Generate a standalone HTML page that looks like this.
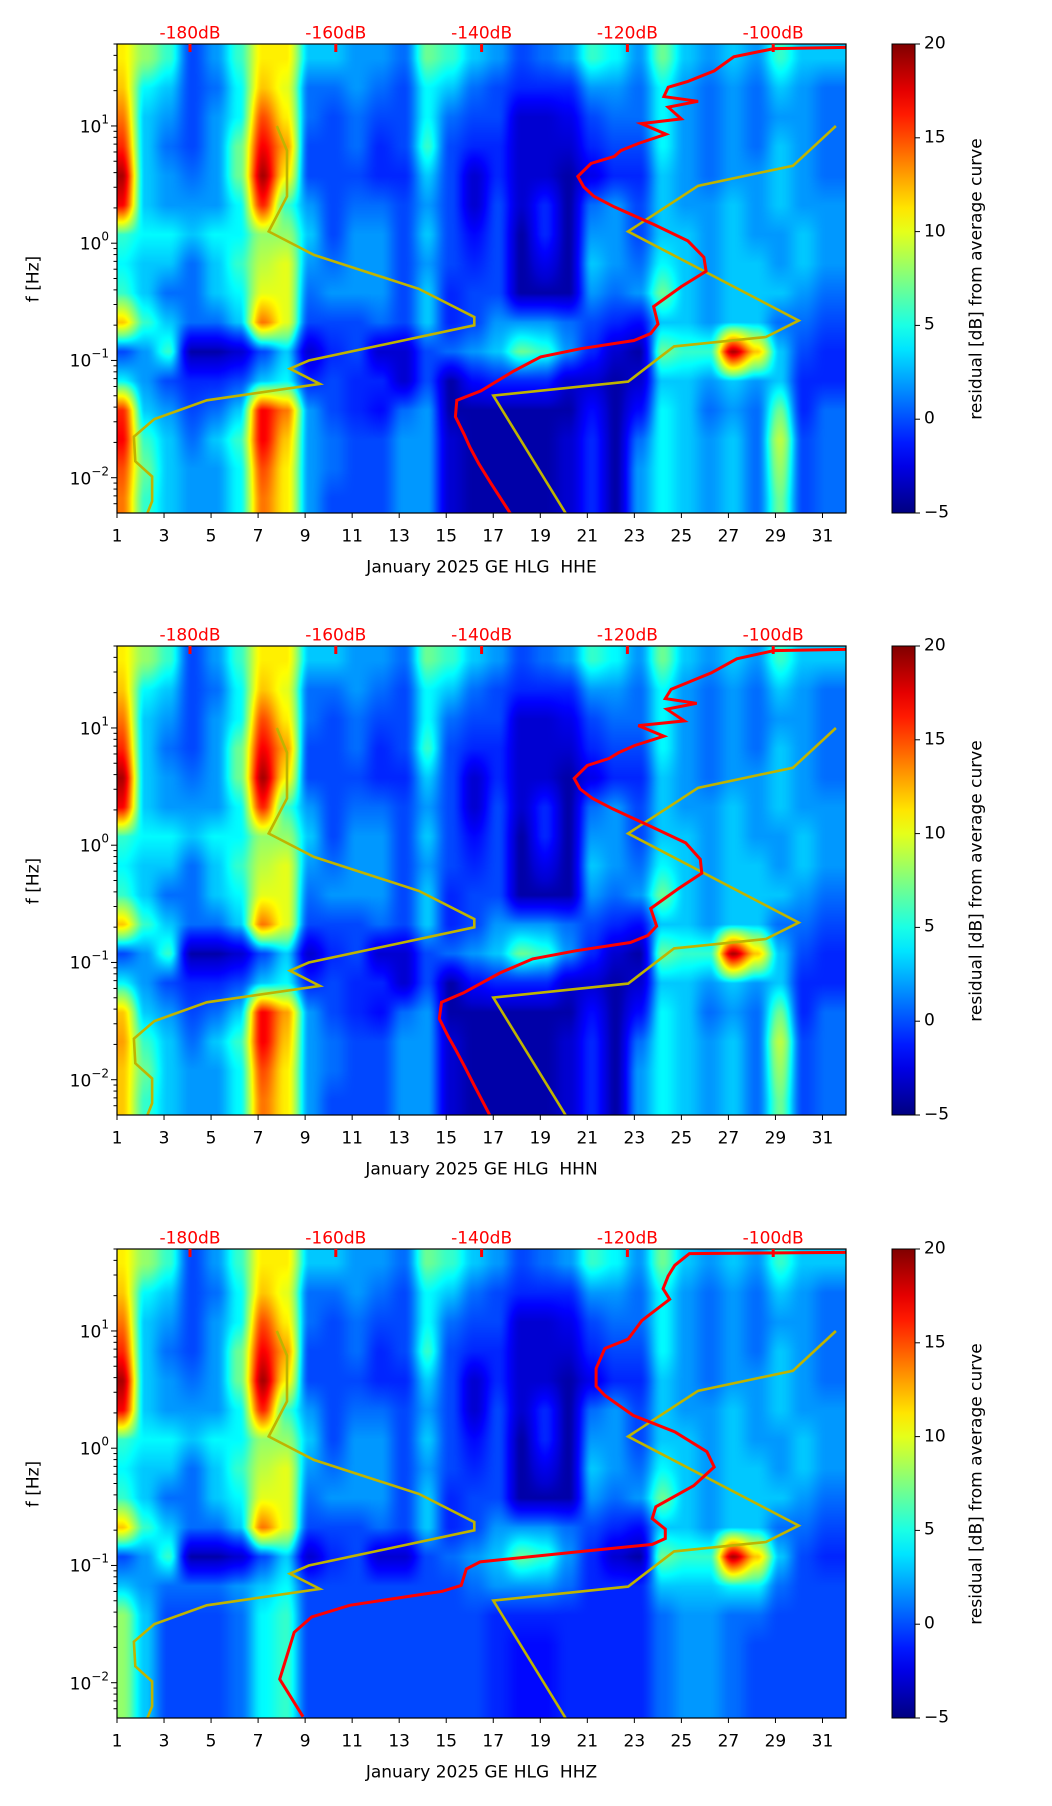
<!DOCTYPE html>
<html><head><meta charset="utf-8">
<style>
html,body{margin:0;padding:0;background:#fff;}
#root{position:relative;width:1052px;height:1806px;overflow:hidden;font-family:"DejaVu Sans","Liberation Sans",sans-serif;}
.t{position:absolute;white-space:nowrap;font-size:17px;color:#000;line-height:1;}
</style></head>
<body>
<div id="root"></div>
<script>
// ---------- data ----------
const channels = ["HHE","HHN","HHZ"];
const panelTops = [44,646,1249];
const dbLabels = [-180,-160,-140,-120,-100];
const dayTicks = [1,3,5,7,9,11,13,15,17,19,21,23,25,27,29,31];
const cbTicks = [20,15,10,5,0,-5];
const decades = [1,0,-1,-2];
// residual grid: 16 rows (0.25 decade bands, top -> bottom), 31 day columns
const hheRows = [
[11,8,6,1,3,6,11,11,4,4,3,3,2,7,6,4,3,1,2,3,6,5,3,7,4,3,4,3,6,4,4],
[12,5,4,1,2,5,12,10,2,2,3,2,1,5,4,2,1,0,0,0,3,3,2,5,3,2,3,2,4,3,2],
[14,4,3,1,3,5,15,11,2,1,2,1,1,5,2,1,1,-3,-3,-2,1,2,2,5,3,2,3,2,3,3,2],
[16,4,2,1,3,7,17,13,1,1,2,0,1,6,1,0,0,-3,-3,-3,0,1,1,5,3,2,3,2,4,3,2],
[19,4,3,2,3,7,19,11,1,1,1,0,0,4,1,-3,0,-3,-3,-4,-2,0,0,4,3,2,3,3,4,3,2],
[17,4,3,3,3,5,16,6,3,1,2,2,1,3,1,-3,1,-3,0,-4,2,3,1,4,3,3,4,3,4,3,3],
[6,5,5,4,5,5,8,8,4,1,3,3,1,4,1,-1,1,-4,0,-4,3,3,1,4,4,3,4,3,3,4,3],
[5,4,4,2,4,6,9,10,3,2,3,3,1,3,1,0,1,-4,-2,-4,4,3,2,5,4,3,4,4,3,4,3],
[6,4,2,2,4,5,10,10,2,3,3,3,1,4,0,1,1,-4,-4,-4,3,2,3,7,4,3,4,4,4,3,2],
[12,6,4,2,2,4,14,10,1,1,1,2,1,4,0,1,3,3,3,2,1,0,-1,4,4,3,4,4,2,2,1],
[1,3,6,-4,-4,-3,1,4,-3,0,1,-3,-3,1,2,3,4,7,6,3,0,-3,-4,7,6,6,19,12,4,1,0],
[5,3,1,0,0,1,4,5,0,1,0,0,-3,1,-4,-1,0,0,0,-3,-3,-4,-3,4,4,3,4,3,4,0,0],
[16,4,3,1,2,4,17,14,3,1,0,-1,2,3,-4,-4,-4,-4,-4,-4,-1,-4,-1,5,4,2,3,2,7,0,2],
[17,6,4,2,4,6,17,12,3,2,1,1,3,3,-3,-4,-4,-4,-4,-3,0,-4,2,5,4,3,4,2,9,1,2],
[15,7,4,3,3,5,15,11,3,2,1,1,3,3,-3,-4,-4,-4,-4,-3,0,-4,3,5,4,3,4,2,8,1,2],
[14,6,4,3,3,5,14,11,3,1,1,1,3,3,-3,-4,-4,-4,-4,-3,0,-4,3,5,4,3,4,2,7,1,2]
];
const hhnLowRows = [
[5,3,1,0,0,1,4,5,0,1,0,0,-3,1,-4,-1,0,0,0,-3,-3,-4,-3,4,4,3,4,3,4,0,0],
[12,4,3,1,2,4,17,13,3,1,0,-1,2,3,-4,-4,-4,-4,-4,-4,-1,-4,-1,5,4,2,3,2,7,0,2],
[13,6,4,2,4,6,17,12,3,2,1,1,3,3,-3,-4,-4,-4,-4,-3,0,-4,2,5,4,3,4,2,9,1,2],
[12,7,4,3,3,5,15,11,3,2,1,1,3,3,-3,-4,-4,-4,-4,-3,0,-4,3,5,4,3,4,2,8,1,2],
[12,6,4,3,3,5,14,11,3,1,1,1,3,3,-3,-4,-4,-4,-4,-3,0,-4,3,5,4,3,4,2,7,1,2]
];
const hhzLowRows = [
[4,3,2,2,2,3,4,5,1,1,1,1,1,1,1,2,3,3,3,2,0,0,0,4,4,4,5,5,2,1,1],
[8,4,1,1,1,2,5,6,1,1,1,1,1,1,1,1,0,0,0,0,0,0,0,2,3,3,2,2,1,1,1],
[8,4,1,1,1,2,5,6,1,1,1,1,1,1,1,1,0,-1,-1,0,0,0,0,2,3,3,2,1,1,1,1],
[8,4,1,1,1,2,5,6,1,1,1,1,1,1,1,1,0,-1,-1,0,0,0,0,2,3,3,2,1,1,1,1],
[8,4,1,1,1,2,5,6,1,1,1,1,1,1,1,1,0,-1,-1,0,0,0,0,2,3,3,2,1,1,1,1]
];
// noise models (dB, log10 f)
const nhnmDb = [-91.4,-97.3,-110.3,-119.9,-96.5,-101.0,-113.6,-119.9,-138.4,-128.4];
const nhnmLf = [1.0,0.66,0.49,0.10,-0.66,-0.80,-0.88,-1.18,-1.30,-2.31];
const nlnmDb = [-168.1,-166.7,-166.7,-169.2,-163.0,-148.6,-141.0,-141.0,-163.7,-166.3,-162.2,-177.7,-184.9,-187.7,-187.5,-185.2,-185.2,-185.9];
const nlnmLf = [1.0,0.79,0.40,0.10,-0.10,-0.39,-0.63,-0.70,-1.0,-1.07,-1.20,-1.34,-1.50,-1.65,-1.86,-1.99,-2.20,-2.31];
// average PSD curves per channel
const hheDb = [-90,-99.9,-105.4,-108.1,-111.7,-114.4,-115.0,-110.3,-114.4,-112.6,-118.1,-114.7,-118.5,-120.9,-121.8,-125.0,-126.8,-126.0,-124.6,-121.8,-116.4,-111.7,-109.5,-109.2,-112.6,-116.4,-115.8,-116.8,-119.1,-126.4,-131.9,-135.6,-140.1,-143.4,-143.6,-142.4,-141.6,-140.4,-138.7,-136.0];
const hheLf = [1.67,1.66,1.59,1.47,1.38,1.33,1.25,1.21,1.16,1.06,1.02,0.93,0.85,0.79,0.74,0.68,0.57,0.48,0.40,0.31,0.16,0.02,-0.12,-0.24,-0.37,-0.54,-0.69,-0.77,-0.83,-0.90,-0.97,-1.09,-1.26,-1.34,-1.48,-1.63,-1.74,-1.88,-2.05,-2.31];
const hhnDb = [-90,-99.9,-105.0,-108.5,-112.0,-114.0,-114.8,-110.5,-114.6,-112.2,-118.5,-115.0,-119.0,-121.2,-122.5,-125.5,-127.3,-126.5,-124.8,-122.0,-116.8,-112.0,-110.0,-109.8,-113.0,-116.8,-116.0,-117.2,-119.6,-127.0,-133.0,-137.5,-142.5,-145.5,-145.8,-144.6,-143.6,-142.4,-141.0,-138.8];
const hhnLf = [1.67,1.66,1.59,1.47,1.38,1.33,1.25,1.21,1.16,1.06,1.02,0.93,0.85,0.79,0.74,0.68,0.57,0.48,0.40,0.31,0.16,0.02,-0.12,-0.24,-0.37,-0.54,-0.69,-0.77,-0.83,-0.90,-0.97,-1.09,-1.26,-1.34,-1.48,-1.63,-1.74,-1.88,-2.05,-2.31];
const hhzDb = [-90,-111.5,-113.5,-114.4,-115.1,-114.2,-118.0,-119.9,-123.1,-124.3,-124.3,-123.1,-119.2,-113.5,-109.1,-108.1,-110.9,-116.1,-116.6,-114.8,-114.8,-116.6,-126.2,-140.2,-142.1,-142.8,-145.4,-158.1,-163.3,-165.7,-167.7,-164.5];
const hhzLf = [1.67,1.66,1.56,1.47,1.36,1.27,1.09,0.93,0.85,0.68,0.53,0.45,0.28,0.14,-0.03,-0.16,-0.32,-0.50,-0.60,-0.69,-0.77,-0.82,-0.88,-0.97,-1.03,-1.17,-1.22,-1.34,-1.44,-1.57,-1.97,-2.29];

// ---------- layout ----------
const AX_L=117, AX_R=846, AX_H=469, LF_TOP=1.699, LF_BOT=-2.301, DAY0=1, DAY1=32;
const CB_L=892, CB_W=23;
const root=document.getElementById('root');
const NS='http://www.w3.org/2000/svg';
function xDay(d){return AX_L+(d-DAY0)/(DAY1-DAY0)*(AX_R-AX_L);}
function xDb(db){return 190+(db+180)*7.29;}
function yLf(top,lf){return top+(LF_TOP-lf)/(LF_TOP-LF_BOT)*AX_H;}
function jet(t){t=Math.max(0,Math.min(1,t));const c=v=>Math.round(255*Math.max(0,Math.min(1,v)));
 return [c(1.5-Math.abs(4*t-3)),c(1.5-Math.abs(4*t-2)),c(1.5-Math.abs(4*t-1))];}
function sm(f){return f*f*(3-2*f);}
function txt(s,x,y,opts){const d=document.createElement('div');d.className='t';d.innerHTML=s;
 d.style.left=x+'px';d.style.top=y+'px';if(opts&&opts.color)d.style.color=opts.color;
 d.style.transform=(opts&&opts.tr)||'translate(-50%,-50%)';return d;}

const svg=document.createElementNS(NS,'svg');
svg.setAttribute('width','1052');svg.setAttribute('height','1806');
svg.style.position='absolute';svg.style.left='0';svg.style.top='0';



function line(x1,y1,x2,y2,col,w){const l=document.createElementNS(NS,'line');
 l.setAttribute('x1',x1);l.setAttribute('y1',y1);l.setAttribute('x2',x2);l.setAttribute('y2',y2);
 l.setAttribute('stroke',col);l.setAttribute('stroke-width',w);return l;}

function buildPanel(p){
 const top=panelTops[p];
 const rows=hheRows.slice(0,11).concat(p===0?hheRows.slice(11):(p===1?hhnLowRows:hhzLowRows));
 const cv=document.createElement('canvas');
 cv.width=AX_R-AX_L;cv.height=AX_H;
 cv.style.position='absolute';cv.style.left=AX_L+'px';cv.style.top=top+'px';
 
 
 root.appendChild(cv);
 const ctx=cv.getContext('2d');const img=ctx.createImageData(cv.width,cv.height);
 const nR=rows.length,nC=rows[0].length;
 for(let y=0;y<cv.height;y++){
  const lf=LF_TOP-(y+0.5)/AX_H*(LF_TOP-LF_BOT);
  let ry=(LF_TOP-lf)/(LF_TOP-LF_BOT)*nR-0.5;ry=Math.max(0,Math.min(nR-1,ry));
  const r0=Math.floor(ry),r1=Math.min(nR-1,r0+1),fy=ry-r0;
  for(let x=0;x<cv.width;x++){
   const day=DAY0+(x+0.5)/cv.width*(DAY1-DAY0);
   let cx=day-DAY0-0.2;cx=Math.max(0,Math.min(nC-1,cx));
   const c0=Math.floor(cx),c1=Math.min(nC-1,c0+1),fx=sm(cx-c0);
   let v=(rows[r0][c0]*(1-fx)+rows[r0][c1]*fx)*(1-fy)+(rows[r1][c0]*(1-fx)+rows[r1][c1]*fx)*fy;
   if(v>-3&&v<7)v-=1.2*Math.sin((v+3)/10*Math.PI);
   const col=jet((v+5)/25);const i=(y*cv.width+x)*4;
   img.data[i]=col[0];img.data[i+1]=col[1];img.data[i+2]=col[2];img.data[i+3]=255;
  }
 }
 ctx.putImageData(img,0,0);

 const g=document.createElementNS(NS,'g');
 
 
 const cp=document.createElementNS(NS,'clipPath');cp.setAttribute('id','clip'+p);
 const cr=document.createElementNS(NS,'rect');cr.setAttribute('x',AX_L);cr.setAttribute('y',top);
 cr.setAttribute('width',AX_R-AX_L);cr.setAttribute('height',AX_H);cp.appendChild(cr);g.appendChild(cp);
 [[nhnmDb,nhnmLf,'nhnm'],[nlnmDb,nlnmLf,'nlnm']].forEach(m=>{
  const pl=document.createElementNS(NS,'polyline');
  pl.setAttribute('points',m[0].map((d,i)=>xDb(d).toFixed(1)+','+yLf(top,m[1][i]).toFixed(1)).join(' '));
  pl.setAttribute('fill','none');pl.setAttribute('stroke','#bfb400');pl.setAttribute('stroke-width','2.6');
  pl.setAttribute('clip-path','url(#clip'+p+')');
  
  
  g.appendChild(pl);
 });
 const dbs=[hheDb,hhnDb,hhzDb][p],lfs=[hheLf,hhnLf,hhzLf][p];
 const pr=document.createElementNS(NS,'polyline');
 pr.setAttribute('points',dbs.map((d,i)=>xDb(d).toFixed(1)+','+yLf(top,lfs[i]).toFixed(1)).join(' '));
 pr.setAttribute('fill','none');pr.setAttribute('stroke','#ff0000');pr.setAttribute('stroke-width','3');
 pr.setAttribute('clip-path','url(#clip'+p+')');
 
 
 g.appendChild(pr);
 const fr=document.createElementNS(NS,'rect');fr.setAttribute('x',AX_L);fr.setAttribute('y',top);
 fr.setAttribute('width',AX_R-AX_L);fr.setAttribute('height',AX_H);fr.setAttribute('fill','none');
 fr.setAttribute('stroke','#000');fr.setAttribute('stroke-width','1.2');
 
 
 g.appendChild(fr);
 dbLabels.forEach(db=>{
  const x=xDb(db);
  g.appendChild(line(x,top,x,top+8,'#ff0000',3));
  const t=txt(db+'dB',x,top-10,{color:'#ff0000'});
  
  
  root.appendChild(t);
 });
 dayTicks.forEach(d=>{
  const x=xDay(d);g.appendChild(line(x,top+AX_H,x,top+AX_H+5,'#000',1));
  const t=txt(String(d),x,top+AX_H+24);
  
  
  root.appendChild(t);
 });
 for(let k=-3;k<=1;k++){
  for(let m=1;m<10;m++){
   const lf=k+Math.log10(m);if(lf<LF_BOT||lf>LF_TOP)continue;
   const y=yLf(top,lf);g.appendChild(line(AX_L-(m===1?6:3.5),y,AX_L,y,'#000',1));
  }
 }
 decades.forEach(k=>{
  const y=yLf(top,k);
  const t=txt('10<sup style="font-size:12px;position:relative;top:-2px">'+(k<0?'\u2212'+(-k):k)+'</sup>',AX_L-8,y,{tr:'translate(-100%,-50%)'});
  
  
  root.appendChild(t);
 });
 const xl=txt('January 2025 GE HLG&nbsp; '+channels[p],(AX_L+AX_R)/2,top+AX_H+55);
 
 
 root.appendChild(xl);
 const yl=txt('f [Hz]',34,top+AX_H/2,{tr:'translate(-50%,-50%) rotate(-90deg)'});
 
 
 root.appendChild(yl);
 const gid='cbg'+p;
 const lg=document.createElementNS(NS,'linearGradient');lg.setAttribute('id',gid);
 lg.setAttribute('x1','0');lg.setAttribute('y1','1');lg.setAttribute('x2','0');lg.setAttribute('y2','0');
 for(let s=0;s<=20;s++){const c=jet(s/20);const st=document.createElementNS(NS,'stop');
  st.setAttribute('offset',(s/20));st.setAttribute('stop-color','rgb('+c.join(',')+')');lg.appendChild(st);}
 g.appendChild(lg);
 const cb=document.createElementNS(NS,'rect');cb.setAttribute('x',CB_L);cb.setAttribute('y',top);
 cb.setAttribute('width',CB_W);cb.setAttribute('height',AX_H);cb.setAttribute('fill','url(#'+gid+')');
 cb.setAttribute('stroke','#000');cb.setAttribute('stroke-width','1');
 
 
 g.appendChild(cb);
 cbTicks.forEach(v=>{
  const y=top+(20-v)/25*AX_H;g.appendChild(line(CB_L+CB_W,y,CB_L+CB_W+5,y,'#000',1));
  const t=txt(v<0?'\u2212'+(-v):String(v),CB_L+CB_W+9,y,{tr:'translate(0,-50%)'});
  
  
  root.appendChild(t);
 });
 const cl=txt('residual [dB] from average curve',977,top+AX_H/2,{tr:'translate(-50%,-50%) rotate(-90deg)'});
 
 
 root.appendChild(cl);
 svg.appendChild(g);
}
for(let p=0;p<3;p++)buildPanel(p);
root.appendChild(svg);
</script>
</body></html>
